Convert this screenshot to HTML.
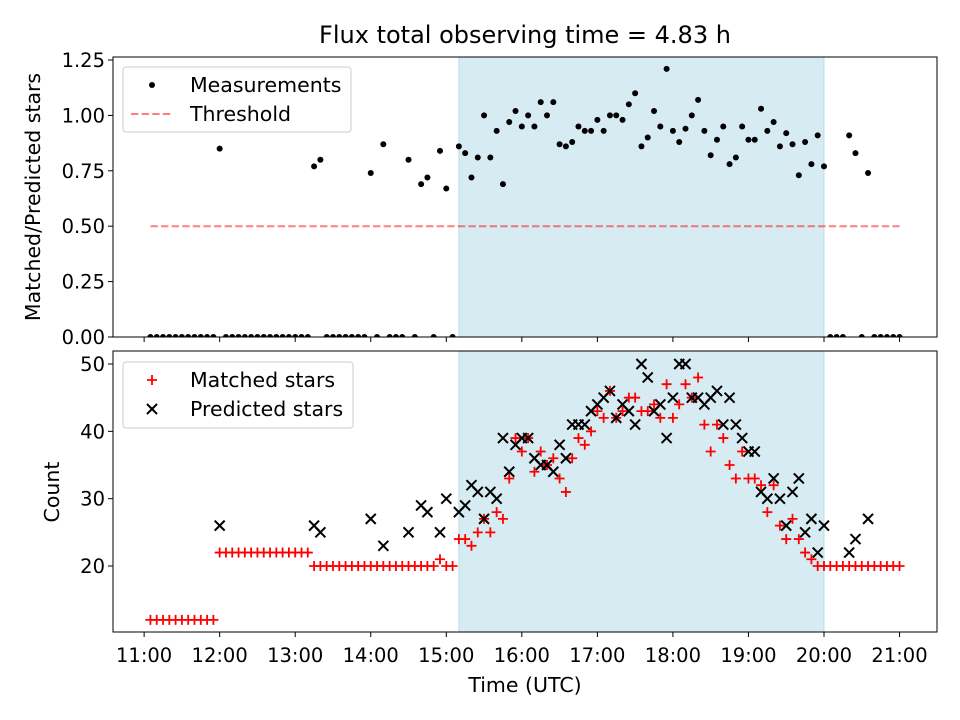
<!DOCTYPE html>
<html><head><meta charset="utf-8"><style>
body{margin:0;background:#fff;}
svg{display:block;font-family:"DejaVu Sans","Liberation Sans",sans-serif;}
</style></head><body>
<svg id="chart" width="960" height="720" viewBox="0 0 960 720"></svg>
<script>
// slot i = 11:05 + 5 min * i (minutes after midnight stored below)
const startMinutes = [665];
const slotMinutes = [5];
const ratioValues = [0,0,0,0,0,0,0,0,0,0,0,0.85,0,0,0,0,0,0,0,0,0,0,0,0,0,0,0.77,0.80,0,0,0,0,0,0,0,0.74,0,0.87,0,0,0,0.80,0,0.69,0.72,0,0.84,0.67,0,0.86,0.83,0.72,0.81,1.00,0.81,0.93,0.69,0.97,1.02,0.95,1.00,0.95,1.06,1.00,1.06,0.87,0.86,0.88,0.95,0.93,0.93,0.98,0.93,1.00,1.00,0.98,1.05,1.10,0.86,0.90,1.02,0.95,1.21,0.93,0.88,0.94,1.00,1.07,0.93,0.82,0.89,0.95,0.78,0.81,0.95,0.89,0.89,1.03,0.93,0.97,0.86,0.92,0.87,0.73,0.88,0.78,0.91,0.77,0,0,0,0.91,0.83,0,0.74,0,0,0,0,0];
const matchedValues = [12,12,12,12,12,12,12,12,12,12,12,22,22,22,22,22,22,22,22,22,22,22,22,22,22,22,20,20,20,20,20,20,20,20,20,20,20,20,20,20,20,20,20,20,20,20,21,20,20,24,24,23,25,27,25,28,27,33,39,37,39,34,37,35,36,33,31,36,39,38,40,43,42,46,42,43,45,45,43,43,44,42,47,42,44,47,45,48,41,37,41,39,35,33,37,33,33,32,28,32,26,24,27,24,22,21,20,20,20,20,20,20,20,20,20,20,20,20,20,20];
const predictedValues = [0,0,0,0,0,0,0,0,0,0,0,26,0,0,0,0,0,0,0,0,0,0,0,0,0,0,26,25,0,0,0,0,0,0,0,27,0,23,0,0,0,25,0,29,28,0,25,30,0,28,29,32,31,27,31,30,39,34,38,39,39,36,35,35,34,38,36,41,41,41,43,44,45,46,42,44,43,41,50,48,43,44,39,45,50,50,45,45,44,45,46,41,45,41,39,37,37,31,30,33,30,26,31,33,25,27,22,26,0,0,0,22,24,0,27,0,0,0,0,0];
const xTickLabels = ["11:00","12:00","13:00","14:00","15:00","16:00","17:00","18:00","19:00","20:00","21:00"];
const xTickHours = [11,12,13,14,15,16,17,18,19,20,21];
const topYTicks = [0,0.25,0.5,0.75,1.0,1.25];
const topYTickLabels = ["0.00","0.25","0.50","0.75","1.00","1.25"];
const botYTicks = [20,30,40,50];
const thresholdValue = [0.5];
const spanHours = [15+10/60, 20];
const titleText = "Flux total observing time = 4.83 h";

const NS="http://www.w3.org/2000/svg";
const svg=document.getElementById('chart');
function mk(tag,attrs,parent){const e=document.createElementNS(NS,tag);for(const k in attrs)e.setAttribute(k,attrs[k]);(parent||svg).appendChild(e);return e;}
const L=113,R=937,T1=57,B1=337,T2=351,B2=632;
const X0=10.588,X1=21.496;
const TICK=19.5, LAB=20.5, LEG=20.5;
function xs(h){return L+(h-X0)/(X1-X0)*(R-L);}
function y1(v){return B1-(v-0)/(1.2635-0)*(B1-T1);}
function y2(v){return B2-(v-10.2)/(51.93-10.2)*(B2-T2);}
function hourOf(i){return (startMinutes[0]+slotMinutes[0]*i)/60;}

const defs=mk('defs',{});
const c1=mk('clipPath',{id:'c1'},defs);mk('rect',{x:L,y:T1,width:R-L,height:B1-T1},c1);
const c2=mk('clipPath',{id:'c2'},defs);mk('rect',{x:L,y:T2,width:R-L,height:B2-T2},c2);

let s=mk('rect',{x:xs(spanHours[0]),y:T1,width:xs(spanHours[1])-xs(spanHours[0]),height:B1-T1,fill:'#add8e6','fill-opacity':0.5,stroke:'#add8e6','stroke-opacity':0.8});


s=mk('rect',{x:xs(spanHours[0]),y:T2,width:xs(spanHours[1])-xs(spanHours[0]),height:B2-T2,fill:'#add8e6','fill-opacity':0.5,stroke:'#add8e6','stroke-opacity':0.8});



const th=mk('line',{x1:xs(hourOf(0)),x2:xs(hourOf(ratioValues.length-1)),y1:y1(thresholdValue[0]),y2:y1(thresholdValue[0]),stroke:'#ff0000','stroke-opacity':0.5,'stroke-width':2,'stroke-dasharray':'7.4,3.2'});



const g1=mk('g',{'clip-path':'url(#c1)'});


ratioValues.forEach((v,i)=>{
  const c=mk('circle',{cx:xs(hourOf(i)),cy:y1(v),r:3,fill:'#000'},g1);
  
  
});

const g2=mk('g',{'clip-path':'url(#c2)'});


matchedValues.forEach((v,i)=>{
  const x=xs(hourOf(i)),y=y2(v);
  const p=mk('path',{d:`M${x-5},${y}H${x+5}M${x},${y-5}V${y+5}`,stroke:'#ff0000','stroke-width':1.8,fill:'none'},g2);
  
  
});
const g3=mk('g',{'clip-path':'url(#c2)'});


predictedValues.forEach((v,i)=>{
  const x=xs(hourOf(i)),y=y2(v);
  const p=mk('path',{d:`M${x-5},${y-5}L${x+5},${y+5}M${x-5},${y+5}L${x+5},${y-5}`,stroke:'#000','stroke-width':2,fill:'none'},g3);
  
  
});

let f=mk('rect',{x:L,y:T1,width:R-L,height:B1-T1,fill:'none',stroke:'#000','stroke-width':1});


f=mk('rect',{x:L,y:T2,width:R-L,height:B2-T2,fill:'none',stroke:'#000','stroke-width':1});



xTickHours.forEach((h,i)=>{
  const x=xs(h);
  mk('line',{x1:x,x2:x,y1:B1,y2:B1+5,stroke:'#000'});
  mk('line',{x1:x,x2:x,y1:B2,y2:B2+5,stroke:'#000'});
  const t=mk('text',{x:x,y:B2+30,'text-anchor':'middle','font-size':TICK,fill:'#000'});
  t.textContent=xTickLabels[i];
  
  
});
topYTicks.forEach((v,i)=>{
  const y=y1(v);
  mk('line',{x1:L-5,x2:L,y1:y,y2:y,stroke:'#000'});
  const t=mk('text',{x:L-8,y:y+7,'text-anchor':'end','font-size':TICK,fill:'#000'});
  t.textContent=topYTickLabels[i];
  
  
});
botYTicks.forEach(v=>{
  const y=y2(v);
  mk('line',{x1:L-5,x2:L,y1:y,y2:y,stroke:'#000'});
  const t=mk('text',{x:L-8,y:y+7,'text-anchor':'end','font-size':TICK,fill:'#000'});
  t.textContent=String(v);
  
  
});

function legendBox(x,y,w,h,name){const r=mk('rect',{x:x,y:y,width:w,height:h,rx:3,fill:'#fff','fill-opacity':0.8,stroke:'#ccc'});}
legendBox(123,67,228,65,'top-legend');
mk('circle',{cx:152,cy:85,r:3,fill:'#000'});
mk('line',{x1:131,x2:173,y1:114,y2:114,stroke:'#ff0000','stroke-opacity':0.5,'stroke-width':2,'stroke-dasharray':'7.4,3.2'});
let t=mk('text',{x:190,y:92,'font-size':LEG,fill:'#000'});t.textContent='Measurements';


t=mk('text',{x:190,y:121,'font-size':LEG,fill:'#000'});t.textContent='Threshold';


legendBox(123,362,230,66,'bottom-legend');
mk('path',{d:'M147,380H157M152,375V385',stroke:'#f00','stroke-width':1.8});
mk('path',{d:'M147,404L157,414M147,414L157,404',stroke:'#000','stroke-width':2});
t=mk('text',{x:190,y:387,'font-size':LEG,fill:'#000'});t.textContent='Matched stars';


t=mk('text',{x:190,y:416,'font-size':LEG,fill:'#000'});t.textContent='Predicted stars';



t=mk('text',{x:525,y:43,'text-anchor':'middle','font-size':24,fill:'#000'});t.textContent=titleText;


t=mk('text',{x:525,y:692,'text-anchor':'middle','font-size':LAB,fill:'#000'});t.textContent='Time (UTC)';


t=mk('text',{x:0,y:0,'text-anchor':'middle','font-size':LAB,fill:'#000',transform:'translate(40,197) rotate(-90)'});t.textContent='Matched/Predicted stars';


t=mk('text',{x:0,y:0,'text-anchor':'middle','font-size':LAB,fill:'#000',transform:'translate(59,492) rotate(-90)'});t.textContent='Count';


</script>
</body></html>
